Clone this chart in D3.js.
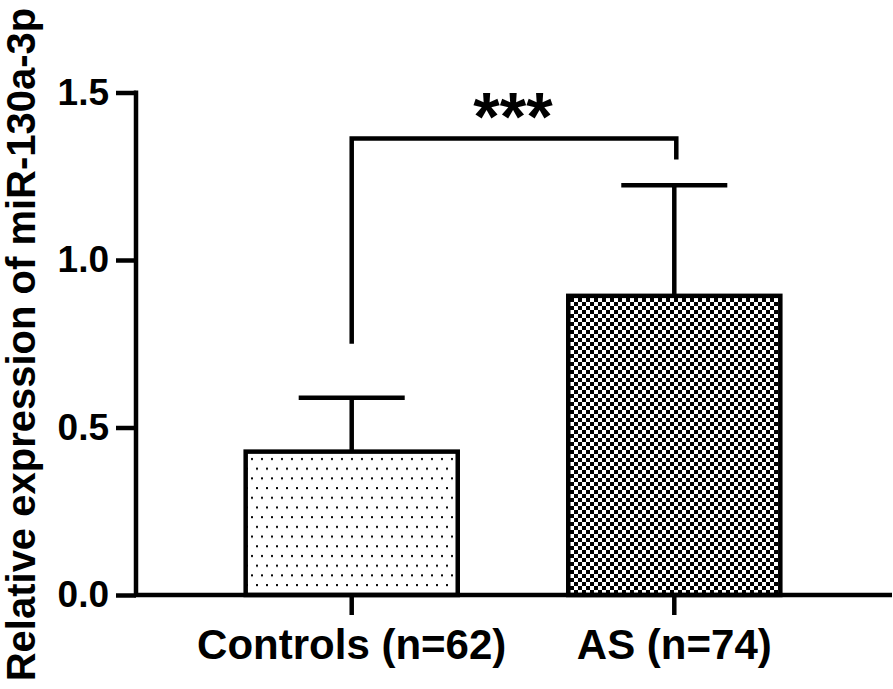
<!DOCTYPE html>
<html><head><meta charset="utf-8">
<script src="https://cdn.jsdelivr.net/npm/d3@7"></script>
<style>body{margin:0;background:#fff}svg{display:block}text{font-family:"Liberation Sans",Arial,sans-serif;font-weight:bold}</style>
</head><body>
<script>
const categories = ["Controls (n=62)", "AS (n=74)"];
const means = [0.428, 0.893];
const sds = [0.161, 0.330];
const patterns = ["dots", "checker"];
const yTicks = [0, 0.5, 1.0, 1.5];
const yTitle = "Relative expression of miR-130a-3p";
const sigLabel = "***";
const bracketTop = 1.363;
const bracketLeftEnd = 0.75;
const bracketRightEnd = 1.30;

const W = 893, H = 689;
const FONT = "Liberation Sans, Arial, sans-serif";
const svg = d3.select("body").append("svg").attr("width", W).attr("height", H);
const defs = svg.append("defs");

const dp = defs.append("pattern").attr("id","dots").attr("patternUnits","userSpaceOnUse")
  .attr("width",10).attr("height",19.4).attr("x",248).attr("y",455);
dp.append("rect").attr("width",10).attr("height",19.4).attr("fill","#fff");
dp.append("rect").attr("x",3).attr("y",3).attr("width",2).attr("height",2).attr("fill","#000");
dp.append("rect").attr("x",8).attr("y",12.7).attr("width",2).attr("height",2).attr("fill","#000");

const cp = defs.append("pattern").attr("id","checker").attr("patternUnits","userSpaceOnUse")
  .attr("width",8).attr("height",8).attr("x",570).attr("y",298);
cp.append("rect").attr("width",8).attr("height",8).attr("fill","#fff");
cp.append("rect").attr("x",0).attr("y",0).attr("width",4).attr("height",4).attr("fill","#000");
cp.append("rect").attr("x",4).attr("y",4).attr("width",4).attr("height",4).attr("fill","#000");

const x = d3.scaleBand().domain(categories).range([136, 890]).paddingInner(0.3426).paddingOuter(0.34);
const y = d3.scaleLinear().domain([0, 1.5]).range([595, 92.5]);

categories.forEach((c, i) => {
  const cx = x(c) + x.bandwidth()/2;
  svg.append("line").attr("x1",cx).attr("x2",cx).attr("y1",y(means[i])).attr("y2",y(means[i]+sds[i]))
    .attr("stroke","#000").attr("stroke-width",4.5);
  svg.append("line").attr("x1",cx - x.bandwidth()/4).attr("x2",cx + x.bandwidth()/4)
    .attr("y1",y(means[i]+sds[i])).attr("y2",y(means[i]+sds[i]))
    .attr("stroke","#000").attr("stroke-width",4.5);
  svg.append("rect").attr("x",x(c)).attr("y",y(means[i])).attr("width",x.bandwidth())
    .attr("height",y(0)-y(means[i])).attr("fill",`url(#${patterns[i]})`)
    .attr("stroke","#000").attr("stroke-width",4.5);
});

const yAxis = d3.axisLeft(y).tickValues(yTicks).tickFormat(d3.format(".1f")).tickSize(20).tickPadding(7);
const gy = svg.append("g").attr("transform","translate(136,0)").call(yAxis);
gy.select(".domain").attr("d", `M0,${y(1.5)-2}V${y(0)+2}`).attr("stroke-width",4.5);
gy.selectAll(".tick line").attr("stroke-width",4.5);
gy.selectAll("text").attr("font-size",37).attr("font-family",FONT).attr("font-weight","bold").attr("fill","#000");

const xAxis = d3.axisBottom(x).tickSize(20).tickPadding(14);
const gx = svg.append("g").attr("transform","translate(0,595)").call(xAxis);
gx.select(".domain").attr("d","M134,0H892").attr("stroke-width",4.5);
gx.selectAll(".tick line").attr("stroke-width",4.5);
gx.selectAll("text").attr("font-size",42).attr("font-family",FONT).attr("font-weight","bold").attr("fill","#000");

svg.append("text").attr("transform",`translate(35,${H/2}) rotate(-90)`).attr("text-anchor","middle")
  .attr("font-size",40).attr("fill","#000").text(yTitle);

const c0 = x(categories[0]) + x.bandwidth()/2, c1 = x(categories[1]) + x.bandwidth()/2;
svg.append("path").attr("d",`M${c0},${y(bracketLeftEnd)}V${y(bracketTop)}H${c1+2}V${y(bracketRightEnd)}`)
  .attr("fill","none").attr("stroke","#000").attr("stroke-width",4.5);
svg.append("text").attr("x",(c0+c1)/2).attr("y",y(bracketTop)+2).attr("text-anchor","middle")
  .attr("font-size",68).attr("fill","#000").text(sigLabel);
</script>
</body></html>
